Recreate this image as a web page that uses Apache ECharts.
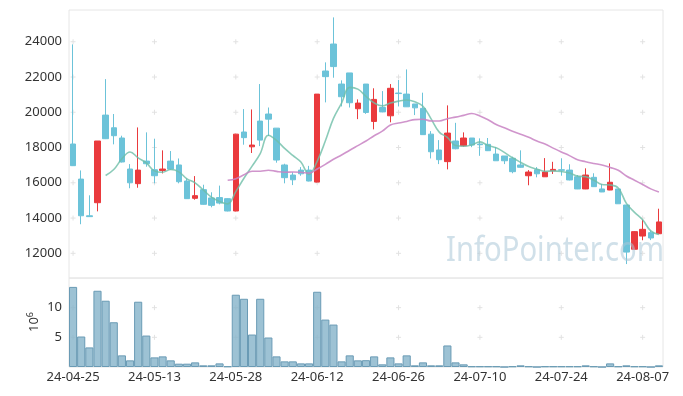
<!DOCTYPE html>
<html><head><meta charset="utf-8">
<script src="https://cdn.jsdelivr.net/npm/echarts@6/dist/echarts.min.js"></script>
<style>html,body{margin:0;padding:0;background:#fff}#c{width:683px;height:396px}</style>
</head><body><div id="c"></div>
<script>
const dates = ['24-04-25','24-04-26','24-04-29','24-04-30',
'24-05-02','24-05-03','24-05-07','24-05-08','24-05-09','24-05-10','24-05-13','24-05-14','24-05-16','24-05-17','24-05-20','24-05-21','24-05-22','24-05-23','24-05-24','24-05-27','24-05-28','24-05-29','24-05-30','24-05-31',
'24-06-03','24-06-04','24-06-05','24-06-07','24-06-10','24-06-11','24-06-12','24-06-13','24-06-14','24-06-17','24-06-18','24-06-19','24-06-20','24-06-21','24-06-24','24-06-25','24-06-26','24-06-27','24-06-28',
'24-07-01','24-07-02','24-07-03','24-07-04','24-07-05','24-07-08','24-07-09','24-07-10','24-07-11','24-07-12','24-07-15','24-07-16','24-07-17','24-07-18','24-07-19','24-07-22','24-07-23','24-07-24','24-07-25','24-07-26','24-07-29','24-07-30','24-07-31',
'24-08-01','24-08-02','24-08-05','24-08-06','24-08-07','24-08-08','24-08-09'];
const opens  = [18200,16210,14130,14870,19840,19120,18540,16780,15950,17230,16740,16700,17230,17010,16100,15120,15610,15140,15160,15100,14400,18880,18040,19500,19900,19100,17010,16440,16720,16720,16040,22340,23870,21600,22230,20200,21600,19480,20270,19800,21090,21030,20470,20220,18760,17860,17200,18370,18100,18540,18200,18180,17630,17520,17390,17010,16400,16740,16340,16680,16740,16720,16340,15650,16310,15650,15590,15650,14740,12230,12980,13170,13110];
const closes = [16970,14130,14080,18370,18500,18670,17180,16000,16720,17080,16400,16780,16780,16060,15100,15270,14780,14720,14850,14400,18760,18560,18140,18420,19610,17290,16290,16170,16510,16100,21030,22020,22590,20880,20540,20520,19990,20730,20020,21360,21060,20310,20250,18730,17760,17310,18820,17930,18540,18140,18160,17820,17250,17250,16630,16880,16610,16510,16610,16760,16710,16160,15650,16440,15780,15480,16030,14810,12070,13230,13360,12870,13780];
const lows   = [16950,13650,14080,14380,18480,18180,17150,15690,15720,16910,15970,16530,16740,15970,15080,15040,14760,14610,14780,14380,14380,18160,17690,18080,18650,17140,15970,15870,16400,16080,16020,20560,21960,20330,20270,19610,19910,19030,20000,19430,20330,20300,19840,18720,17380,17060,16760,17900,18050,18020,17530,17800,17240,17060,16540,16850,15860,16310,16340,16500,16400,16140,15640,15640,15760,15470,15580,14800,11390,12200,12740,12750,13100];
const highs  = [23850,16700,15290,18370,21880,19900,18670,17060,19140,18860,18500,17840,17800,17380,16250,16380,15890,15460,15840,15120,18780,20180,20160,21600,20270,19100,17080,16600,16890,16960,21030,22830,25380,21810,22230,20730,21600,21360,21200,21600,21830,22430,20470,21110,18930,18420,20390,19400,18860,18540,18520,18540,18030,17520,17480,17840,16720,16890,17400,17190,17390,17050,16440,16820,16540,15930,17100,15650,14740,13260,13900,13300,14530];
const volumes = [13.5,5.14,3.3,12.85,11.17,7.54,1.96,1.12,11.0,5.3,1.62,1.79,1.12,0.56,0.56,0.78,0.28,0.28,0.61,0.11,12.18,11.5,5.47,11.5,4.97,1.79,0.95,0.95,0.61,0.61,12.68,7.99,7.15,0.95,1.96,1.12,1.15,1.79,0.45,1.62,0.61,1.96,0.28,0.78,0.28,0.28,3.63,0.78,0.45,0.11,0.11,0.11,0.11,0,0.11,0.28,0.11,0,0.11,0.11,0.11,0.11,0.11,0.28,0.11,0,0.61,0.11,0.28,0.11,0.11,0,0.28];
const priceTicks = [12000,14000,16000,18000,20000,22000,24000];
const volTicks = [5,10];

function movingAvg(n){
  return closes.map((c,i)=>{
    if(i<n-1) return '-';
    let s=0; for(let k=i-n+1;k<=i;k++) s+=closes[k];
    return +(s/n).toFixed(1);
  });
}
const ma5 = movingAvg(5), ma20 = movingAvg(20);
const kdata = opens.map((o,i)=>[o,closes[i],lows[i],highs[i]]);

const chart = echarts.init(document.getElementById('c'), null, {renderer:'canvas'});
const FONT = 'Noto Sans';
const lab = {color:'#333', fontSize:13, fontFamily:FONT};
chart.setOption({
  animation:false,
  textStyle:{fontFamily:FONT},
  grid:[
    {left:69, right:20, top:10, height:268, show:true, borderColor:'#e6e6e6', borderWidth:1},
    {left:69, right:20, top:278, height:89, show:true, borderColor:'#e6e6e6', borderWidth:1}
  ],
  xAxis:[
    {type:'category', gridIndex:0, data:dates, boundaryGap:true, axisLine:{show:false}, axisTick:{show:false}, axisLabel:{show:false}, splitLine:{show:false}},
    {type:'category', gridIndex:1, data:dates, boundaryGap:true, axisLine:{show:false}, axisTick:{show:false},
     axisLabel:Object.assign({interval:9, margin:4}, lab), splitLine:{show:false}}
  ],
  yAxis:[
    {type:'value', gridIndex:0, min:10600, max:25800, splitNumber:8, axisLine:{show:false}, axisTick:{show:false}, splitLine:{show:false},
     axisLabel:Object.assign({margin:7, formatter:v=>priceTicks.indexOf(v)>=0?String(v):''}, lab)},
    {type:'value', gridIndex:1, min:0, max:15, interval:5, axisLine:{show:false}, axisTick:{show:false}, splitLine:{show:false},
     axisLabel:Object.assign({margin:7, formatter:v=>volTicks.indexOf(v)>=0?String(v):''}, lab)}
  ],
  series:[
    {type:'candlestick', xAxisIndex:0, yAxisIndex:0, data:kdata, barWidth:6,
     itemStyle:{color:'#ea3a3d', color0:'#6cc3d9', borderColor:'#ea3a3d', borderColor0:'#6cc3d9', borderWidth:1}},
    {type:'line', xAxisIndex:0, yAxisIndex:0, data:ma5, showSymbol:false, smooth:0.4,
     lineStyle:{color:'rgba(110,190,168,0.8)', width:1.6}},
    {type:'line', xAxisIndex:0, yAxisIndex:0, data:ma20, showSymbol:false, smooth:0.4,
     lineStyle:{color:'rgba(200,130,195,0.85)', width:1.6}},
    {type:'bar', xAxisIndex:1, yAxisIndex:1, data:volumes, barWidth:'100%',
     itemStyle:{color:'rgba(135,180,202,0.82)', borderColor:'#6a9bb5', borderWidth:1}}
  ]
});

// grid "+" marks, volume unit label and watermark
const g = [];
const plus = (p)=>{
  g.push({type:'line', silent:true, z:-1, shape:{x1:p[0]-2.5,y1:p[1],x2:p[0]+2.5,y2:p[1]}, style:{stroke:'#e2e2e2', lineWidth:1}});
  g.push({type:'line', silent:true, z:-1, shape:{x1:p[0],y1:p[1]-2.5,x2:p[0],y2:p[1]+2.5}, style:{stroke:'#e2e2e2', lineWidth:1}});
};
for(let k=0;k<dates.length;k+=10){
  priceTicks.forEach(v=>plus(chart.convertToPixel({xAxisIndex:0,yAxisIndex:0},[dates[k],v])));
  volTicks.forEach(v=>plus(chart.convertToPixel({xAxisIndex:1,yAxisIndex:1},[dates[k],v])));
}
g.push({type:'text', silent:true, x:34, y:322, rotation:Math.PI/2,
  style:{text:'{b|10}{s|6}', align:'center', verticalAlign:'middle',
    rich:{b:{fontSize:13, fill:'#333', fontFamily:FONT, lineHeight:16}, s:{fontSize:9, fill:'#333', fontFamily:FONT, verticalAlign:'top', lineHeight:16}}}});
g.push({type:'text', silent:true, z:100, x:446, y:234, scaleX:0.86,
  style:{text:'InfoPointer.com', font:'34px "Noto Sans"', fill:'rgba(170,198,215,0.55)'}});
chart.setOption({graphic:g});
</script></body></html>
